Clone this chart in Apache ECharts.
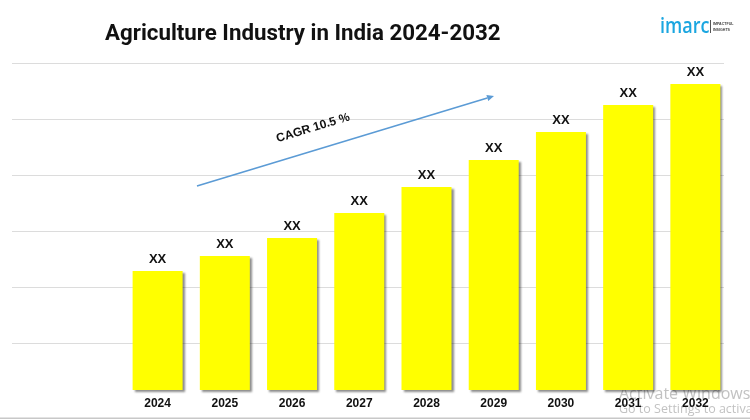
<!DOCTYPE html>
<html>
<head>
<meta charset="utf-8">
<script src="https://cdn.jsdelivr.net/npm/echarts@6/dist/echarts.min.js"></script>
<style>html,body{margin:0;padding:0;background:#fff}#c{width:750px;height:420px}</style>
</head>
<body>
<div id="c"></div>
<script>
var categories = ['2024','2025','2026','2027','2028','2029','2030','2031','2032'];
var values = [119, 134, 152, 177, 203, 230, 258, 285, 306];
var barLabels = ['XX','XX','XX','XX','XX','XX','XX','XX','XX'];
var gridTicks = [0, 1, 2, 3, 4, 5];
var titleText = 'Agriculture Industry in India 2024-2032';
var cagrText = 'CAGR 10.5 %';

var chart = echarts.init(document.getElementById('c'), null, {renderer: 'canvas'});
var ang = Math.atan2(186 - 96, 494 - 197);
var tip = [494, 96], L = 7, W = 3.2;
var dx = Math.cos(ang), dy = -Math.sin(ang);
var bx = tip[0] - L * dx, by = tip[1] - L * dy;
var nx = -dy, ny = dx;

chart.setOption({
  animation: false,
  backgroundColor: '#ffffff',
  grid: [
    {left: 12, right: 26, top: 63, bottom: 77},
    {left: 124, right: 21, top: 63, bottom: 30}
  ],
  xAxis: [
    {gridIndex: 0, type: 'value', min: 0, max: 1, show: false},
    {gridIndex: 1, type: 'category', data: categories,
     axisLine: {show: false}, axisTick: {show: false},
     axisLabel: {color: '#111', fontWeight: 'bold', fontSize: 12, fontFamily: 'Liberation Sans', margin: 8}}
  ],
  yAxis: [
    {gridIndex: 0, type: 'value', min: gridTicks[0], max: gridTicks[gridTicks.length - 1], interval: 1,
     axisLine: {show: false}, axisTick: {show: false}, axisLabel: {show: false},
     splitLine: {show: true, lineStyle: {color: '#dcdcdc', width: 1}}},
    {gridIndex: 1, type: 'value', min: 0, max: 327, show: false, splitLine: {show: false}}
  ],
  series: [
    {type: 'line', xAxisIndex: 0, yAxisIndex: 0, data: [], silent: true},
    {type: 'bar', xAxisIndex: 1, yAxisIndex: 1, data: values, barWidth: 50,
     itemStyle: {color: '#ffff00', shadowColor: 'rgba(0,0,0,0.45)', shadowBlur: 2, shadowOffsetX: 2, shadowOffsetY: 2},
     label: {show: true, position: 'top', distance: 5, color: '#111', fontWeight: 'bold', fontSize: 13,
       fontFamily: 'Liberation Sans',
       formatter: function (p) { return barLabels[p.dataIndex]; }}}
  ],
  graphic: [
    {type: 'text', left: 105, top: 23, z: 10,
     style: {text: titleText, fill: '#111', font: 'bold 22.3px Roboto'}},
    {type: 'text', x: 660, y: 26.5, scaleX: 0.82, z: 10,
     style: {text: 'imarc', fill: '#1ba6e0', font: '600 22px "Open Sans"', verticalAlign: 'middle'}},
    {type: 'rect', shape: {x: 710, y: 20, width: 1, height: 13}, style: {fill: '#555'}, z: 10},
    {type: 'text', left: 713, top: 21, z: 10,
     style: {text: 'IMPACTFUL\nINSIGHTS', fill: '#444', font: 'bold 3.6px "Liberation Sans"', lineHeight: 6}},
    {type: 'line', shape: {x1: 197, y1: 186, x2: bx, y2: by}, z: 10,
     style: {stroke: '#5b9bd5', lineWidth: 1.6}},
    {type: 'polygon', shape: {points: [tip, [bx + W * nx, by + W * ny], [bx - W * nx, by - W * ny]]}, z: 10,
     style: {fill: '#5b9bd5'}},
    {type: 'text', x: 313, y: 128, rotation: ang, z: 10,
     style: {text: cagrText, fill: '#111', font: 'bold 12px "Liberation Sans"', align: 'center', verticalAlign: 'middle'}},
    {type: 'rect', shape: {x: 0, y: 417.5, width: 750, height: 1.5}, style: {fill: '#c8c8c8'}, z: 1},
    {type: 'text', left: 619, top: 386, z: 0,
     style: {text: 'Activate Windows', fill: '#c2c2c2', font: '16px "Open Sans"'}},
    {type: 'text', left: 619, top: 403, z: 0,
     style: {text: 'Go to Settings to activate Windows.', fill: '#c2c2c2', font: '12.5px "Open Sans"'}}
  ]
});
</script>
</body>
</html>
